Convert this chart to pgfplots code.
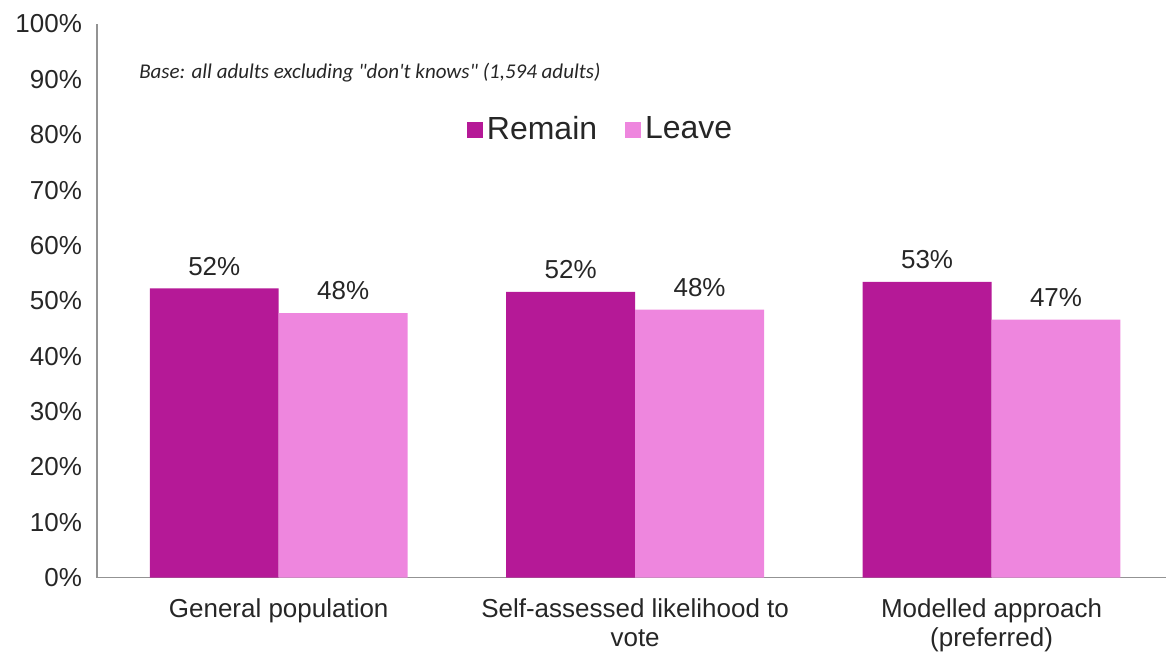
\documentclass[border=0pt]{standalone}
\usepackage{pgfplots}
\pgfplotsset{compat=1.18}
\usetikzlibrary{calc}
\usepackage{fontspec}
\setmainfont{Liberation Sans}
\newfontfamily\carlito{Carlito}
\definecolor{remain}{RGB}{181,25,151}
\definecolor{leave}{RGB}{238,134,222}
\definecolor{txt}{RGB}{38,38,38}
\begin{document}
\begin{tikzpicture}
\begin{axis}[
  scale only axis,
  width=535pt, height=277pt,
  ymin=0, ymax=100,
  xmin=-0.51, xmax=2.49,
  ytick={0,10,...,100},
  yticklabel={\pgfmathprintnumber{\tick}\%},
  /pgf/number format/assume math mode=true,
  xtick={0,1,2},
  xticklabels={General population, Self-assessed likelihood to\\vote, Modelled approach\\(preferred)},
  xticklabel style={align=center, font=\fontsize{13}{14.5}\selectfont, text=txt, yshift=-7pt},
  yticklabel style={font=\fontsize{13}{14}\selectfont, text=txt, xshift=-4pt},
  axis x line=bottom, axis y line=left,
  axis line style={draw=gray!85, line width=0.8pt, -},
  major tick length=0pt,
  ybar=0pt, bar width=64.5pt,
  nodes near coords={\pgfmathprintnumber[fixed,precision=0]{\pgfplotspointmeta}\%},
  nodes near coords style={font=\fontsize{13}{14}\selectfont, text=txt, yshift=3pt},
  legend style={at={(rel axis cs:0.472,0.81)}, anchor=center, draw=none, fill=none,
    font=\fontsize{16}{18}\selectfont, text=txt, legend columns=2,
    /tikz/every even column/.append style={column sep=12pt}},
  legend image code/.code={\fill[#1] (0pt,-4.5pt) rectangle (8pt,3.5pt);},
  clip=false,
]
\addplot[fill=remain, draw=none] coordinates {(0,52.25) (1,51.6) (2,53.4)};
\addplot[fill=leave, draw=none] coordinates {(0,47.75) (1,48.4) (2,46.6)};
\legend{Remain, Leave}
\node[anchor=west, font=\carlito\itshape\fontsize{10.5}{12}\selectfont, text=txt] at (rel axis cs:0.033,0.913) {Base: all adults excluding "don't knows" (1,594 adults)};
\coordinate (O) at (rel axis cs:0,0);
\coordinate (T) at (rel axis cs:1,1);
\end{axis}
\useasboundingbox ($(O)+(-48.5pt,-36.5pt)$) rectangle ($(T)+(0pt,12pt)$);
\end{tikzpicture}
\end{document}
